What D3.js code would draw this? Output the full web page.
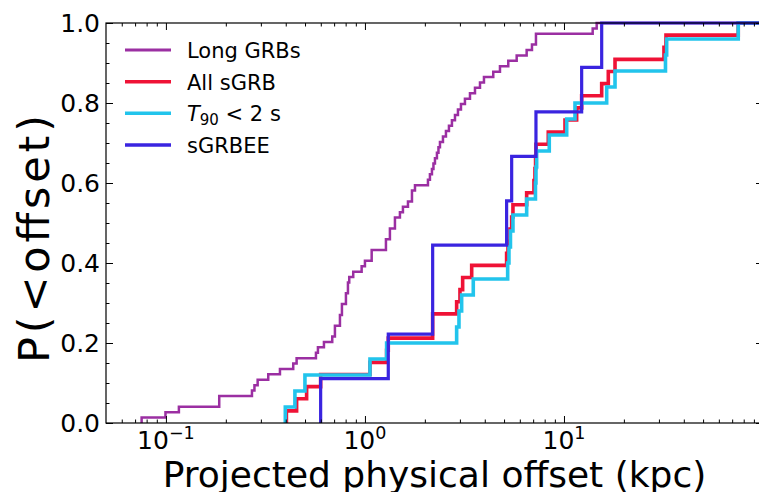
<!DOCTYPE html>
<html>
<head>
<meta charset="utf-8">
<script src="https://cdn.jsdelivr.net/npm/d3@7"></script>
<style>
  body { margin: 0; background: #fff; }
  svg { display: block; }
  text { font-family: "DejaVu Sans", sans-serif; fill: #000; }
</style>
</head>
<body>
<svg id="chart" width="759" height="492"></svg>
<script>
// Projected host-galaxy offsets (kpc) for each GRB sample; cumulative fraction is built from them.
const longGRBOffsets = [
  0.0755, 0.0995, 0.1162, 0.1853, 0.1853, 0.2706, 0.2785, 0.2890, 0.3267, 0.3741,
  0.4362, 0.4536, 0.5673, 0.5805, 0.6223, 0.6850, 0.7066, 0.7066, 0.7489, 0.7489,
  0.7663, 0.7663, 0.8026, 0.8026, 0.8215, 0.8215, 0.8339, 0.8733, 0.9625, 1.000,
  1.081, 1.081, 1.275, 1.275, 1.335, 1.335, 1.415, 1.415, 1.499, 1.552,
  1.645, 1.723, 1.723, 1.784, 2.073, 2.121, 2.171, 2.209, 2.248, 2.300,
  2.341, 2.382, 2.466, 2.553, 2.643, 2.736, 2.834, 2.933, 3.037, 3.180,
  3.371, 3.572, 3.785, 3.963, 4.413, 4.769, 5.250, 5.786, 6.494, 6.906,
  7.232, 7.232, 13.94, 14.60
];
const allSGRBOffsets = [
  0.403, 0.4536, 0.5093, 0.599, 1.060, 1.285, 1.310, 2.189, 2.189, 2.889,
  3.002, 3.097, 3.438, 5.150, 5.232, 5.353, 5.460, 5.542, 6.494, 7.066,
  7.149, 7.200, 7.232, 8.339, 10.12, 11.58, 12.27, 15.47, 16.70, 18.05,
  31.80, 32.55, 75.1
];
const t90Offsets = [
  0.398, 0.4448, 0.4995, 1.060, 1.285, 2.889, 2.968, 3.061, 3.502, 5.213,
  5.291, 5.384, 5.542, 6.494, 7.190, 7.232, 7.290, 8.436, 10.32, 11.36,
  16.39, 18.05, 32.36, 32.81, 75.1
];
const sgrbeeOffsets = [0.599, 1.310, 2.189, 2.189, 5.150, 5.460, 7.232, 12.27, 15.47];

const seriesLabels = ["Long GRBs", "All sGRB", "T90 < 2 s", "sGRBEE"];
const seriesColors = ["#9b2fa2", "#ef1236", "#22c4ec", "#3a24e0"];
const seriesWidths = [2.5, 3.6, 3.6, 3.2];

const xDomain = [0.05, 100];
const xMajorTicks = [0.1, 1, 10];
const xTickExponents = ["\u22121", "0", "1"];
const yMajorTicks = [0, 0.2, 0.4, 0.6, 0.8, 1.0];
const yTickLabels = ["0.0", "0.2", "0.4", "0.6", "0.8", "1.0"];
const xLabel = "Projected physical offset (kpc)";
const yLabel = "P(<offset)";

const svg = d3.select("#chart");
const plot = { left: 106, right: 763, top: 23, bottom: 423 };

const x = d3.scaleLog().domain(xDomain).range([plot.left, plot.right]);
const y = d3.scaleLinear().domain([0, 1]).range([plot.bottom, plot.top]);

// Empirical cumulative distribution as step points
function ecdf(values) {
  const v = values.slice().sort((a, b) => a - b);
  const n = v.length;
  const pts = [[v[0], 0]];
  v.forEach((d, i) => pts.push([d, (i + 1) / n]));
  pts.push([xDomain[1], 1]);
  return pts;
}

svg.append("defs").append("clipPath").attr("id", "plotClip")
  .append("rect")
  .attr("x", plot.left).attr("y", plot.top - 6)
  .attr("width", plot.right - plot.left).attr("height", plot.bottom - plot.top + 6);

const line = d3.line()
  .x(d => x(d[0]))
  .y(d => y(d[1]))
  .curve(d3.curveStepAfter);

const samples = [longGRBOffsets, allSGRBOffsets, t90Offsets, sgrbeeOffsets];
const linesG = svg.append("g").attr("clip-path", "url(#plotClip)");
samples.forEach((s, i) => {
  linesG.append("path")
    .datum(ecdf(s))
    .attr("d", line)
    .attr("fill", "none")
    .attr("stroke", seriesColors[i])
    .attr("stroke-width", seriesWidths[i])
    .attr("stroke-linejoin", "miter");
});

// Axes: inward ticks on all four sides
const xMinor = [];
[0.01, 0.1, 1, 10].forEach(dec => {
  for (let m = 2; m <= 9; m++) {
    const v = m * dec;
    if (v > xDomain[0] && v < xDomain[1]) xMinor.push(v);
  }
});
const yMinor = d3.range(0, 1.0001, 0.05).map(d => +d.toFixed(2)).filter(d => !yMajorTicks.includes(d));

const axisBottom = d3.axisBottom(x).tickValues(xMajorTicks).tickSize(-7).tickFormat("");
const axisBottomMinor = d3.axisBottom(x).tickValues(xMinor).tickSize(-3.5).tickFormat("");
const axisTop = d3.axisTop(x).tickValues(xMajorTicks).tickSize(-7).tickFormat("");
const axisTopMinor = d3.axisTop(x).tickValues(xMinor).tickSize(-3.5).tickFormat("");
const axisLeft = d3.axisLeft(y).tickValues(yMajorTicks).tickSize(-7).tickFormat("");
const axisLeftMinor = d3.axisLeft(y).tickValues(yMinor).tickSize(-3.5).tickFormat("");
const axisRight = d3.axisRight(y).tickValues(yMajorTicks).tickSize(-7).tickFormat("");
const axisRightMinor = d3.axisRight(y).tickValues(yMinor).tickSize(-3.5).tickFormat("");

function styleAxis(g) {
  g.selectAll(".domain").remove();
  g.selectAll(".tick line").attr("stroke", "#000").attr("stroke-width", 1);
}
svg.append("g").attr("transform", `translate(0,${plot.bottom})`).call(axisBottom).call(styleAxis);
svg.append("g").attr("transform", `translate(0,${plot.bottom})`).call(axisBottomMinor).call(styleAxis);
svg.append("g").attr("transform", `translate(0,${plot.top})`).call(axisTop).call(styleAxis);
svg.append("g").attr("transform", `translate(0,${plot.top})`).call(axisTopMinor).call(styleAxis);
svg.append("g").attr("transform", `translate(${plot.left},0)`).call(axisLeft).call(styleAxis);
svg.append("g").attr("transform", `translate(${plot.left},0)`).call(axisLeftMinor).call(styleAxis);
svg.append("g").attr("transform", `translate(${plot.right},0)`).call(axisRight).call(styleAxis);
svg.append("g").attr("transform", `translate(${plot.right},0)`).call(axisRightMinor).call(styleAxis);

// Frame
svg.append("rect")
  .attr("x", plot.left).attr("y", plot.top)
  .attr("width", plot.right - plot.left).attr("height", plot.bottom - plot.top)
  .attr("fill", "none").attr("stroke", "#000").attr("stroke-width", 1.2);

// Tick labels
svg.append("g").selectAll("text")
  .data(yMajorTicks)
  .join("text")
  .attr("x", plot.left - 6)
  .attr("y", d => y(d) + 9)
  .attr("text-anchor", "end")
  .attr("font-size", 25)
  .text((d, i) => yTickLabels[i]);

const xLab = svg.append("g").selectAll("text")
  .data(xMajorTicks)
  .join("text")
  .attr("x", d => x(d))
  .attr("y", plot.bottom + 26)
  .attr("text-anchor", "middle")
  .attr("font-size", 25);
xLab.append("tspan").text("10");
xLab.append("tspan")
  .attr("font-size", 17.5)
  .attr("dy", -10)
  .text((d, i) => xTickExponents[i]);

// Axis titles
svg.append("text")
  .attr("x", (plot.left + plot.right) / 2)
  .attr("y", 487)
  .attr("text-anchor", "middle")
  .attr("font-size", 36)
  .text(xLabel);

svg.append("text")
  .attr("transform", `translate(49,${(plot.top + plot.bottom) / 2 + 16}) rotate(-90)`)
  .attr("text-anchor", "middle")
  .attr("font-size", 43)
  .attr("textLength", 248)
  .attr("lengthAdjust", "spacing")
  .text(yLabel);

// Legend
const legend = svg.append("g");
const legendY = [50, 81.7, 113.3, 145];
seriesLabels.forEach((lab, i) => {
  legend.append("line")
    .attr("x1", 125).attr("x2", 171)
    .attr("y1", legendY[i]).attr("y2", legendY[i])
    .attr("stroke", seriesColors[i])
    .attr("stroke-width", i === 0 ? 3 : 3.6);
  const t = legend.append("text")
    .attr("x", 187)
    .attr("y", legendY[i] + 8)
    .attr("font-size", 21);
  if (i === 2) {
    t.append("tspan").attr("font-style", "italic").text("T");
    t.append("tspan").attr("font-size", 15).attr("dy", 4).text("90");
    t.append("tspan").attr("dy", -4).text(" < 2 s");
  } else {
    t.text(lab);
  }
});
</script>
</body>
</html>
